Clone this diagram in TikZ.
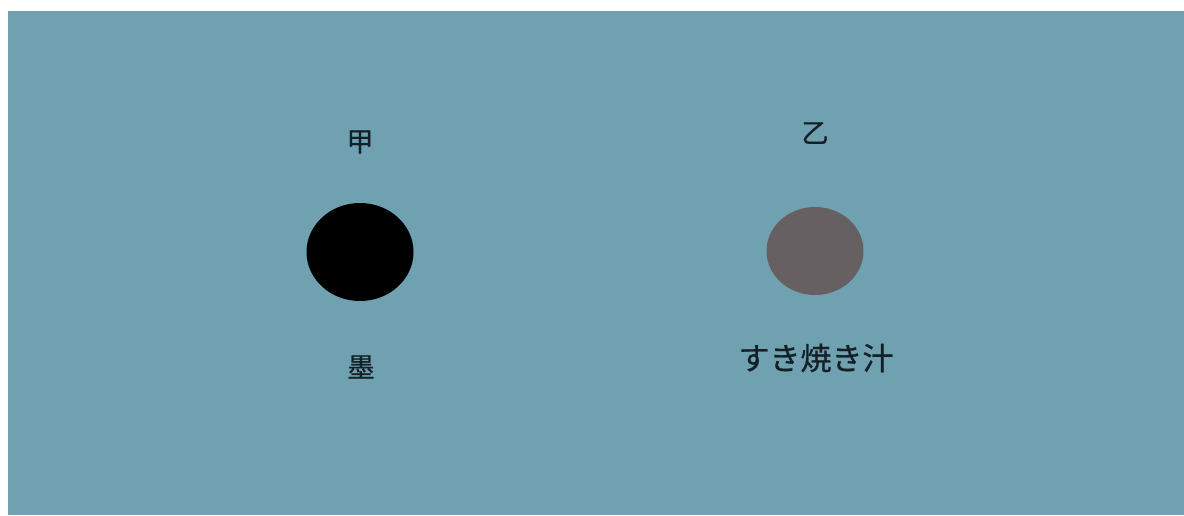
\documentclass[tikz,border=0pt]{standalone}
\usepackage{fontspec}
\newfontfamily\cjk[FakeBold=0.8]{Noto Sans CJK JP}
\definecolor{bgteal}{RGB}{111,161,176}
\definecolor{sukigray}{RGB}{102,96,99}
\definecolor{txt}{RGB}{20,32,38}
\tikzset{
  lbl/.style={font=\cjk\fontsize{15.5pt}{18pt}\selectfont, text=txt, inner sep=0pt},
  smalllbl/.style={lbl, font=\cjk\fontsize{13.5pt}{16pt}\selectfont}
}
\begin{document}
\begin{tikzpicture}[x=0.5pt,y=-0.5pt]
\useasboundingbox (0,0) rectangle (1184,515);
\fill[white] (0,0) rectangle (1184,515);
\fill[bgteal] (8,11) rectangle (1184,515);
\node[smalllbl] (jia) at (360,142) {甲};
\fill[black] (360,252) ellipse [x radius=53.5, y radius=49];
\node[smalllbl] (mo) at (361,367) {墨};
\node[smalllbl] (yi) at (815,133) {乙};
\fill[sukigray] (815,251) ellipse [x radius=48.5, y radius=44];
\node[lbl] (suki) at (816,358) {すき焼き汁};
\end{tikzpicture}
\end{document}
